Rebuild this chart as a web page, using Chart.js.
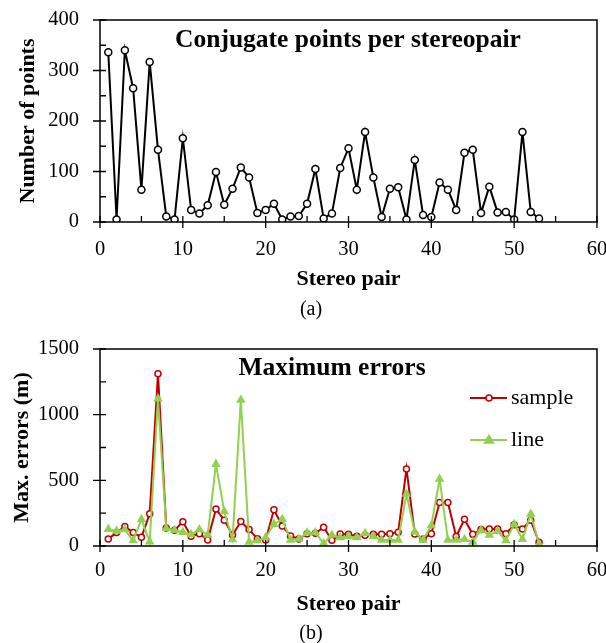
<!DOCTYPE html>
<html>
<head>
<meta charset="utf-8">
<script src="https://cdn.jsdelivr.net/npm/chart.js@4.4.0/dist/chart.umd.min.js"></script>
<style>
    body { margin: 0; background: #fff; width: 606px; height: 643px; position: relative; overflow: hidden; }
    canvas { position: absolute; left: 0; }
    #chartA { top: 0; }
    #chartB { top: 325px; }
    .cap { position: absolute; width: 100%; text-align: center; font-family: 'Liberation Serif', serif; font-size: 20px; color: #000; }
</style>
</head>
<body>
<canvas id="chartA" width="606" height="325"></canvas>
<canvas id="chartB" width="606" height="318"></canvas>
<div class="cap" style="left:8px; top:297px;">(a)</div>
<div class="cap" style="left:8px; top:621px;">(b)</div>
<script>
// Data
const stereoPairs = [1, 2, 3, 4, 5, 6, 7, 8, 9, 10, 11, 12, 13, 14, 15, 16, 17, 18, 19, 20,
    21, 22, 23, 24, 25, 26, 27, 28, 29, 30, 31, 32, 33, 34, 35, 36, 37, 38, 39, 40,
    41, 42, 43, 44, 45, 46, 47, 48, 49, 50, 51, 52, 53];

const conjugatePoints = [336, 5, 340, 265, 64, 317, 143, 11, 5, 166,
    24, 17, 33, 99, 34, 66, 108, 88, 18, 24,
    36, 5, 11, 12, 36, 105, 7, 17, 107, 146,
    64, 178, 88, 10, 66, 69, 5, 123, 14, 10,
    78, 64, 24, 137, 143, 18, 70, 19, 20, 5,
    178, 20, 7];

const sampleErrors = [54, 102, 148, 102, 67, 245, 1311, 138, 120, 184,
    74, 94, 46, 281, 197, 84, 186, 125, 56, 46,
    276, 153, 77, 54, 94, 97, 143, 44, 92, 89,
    74, 82, 89, 89, 94, 105, 587, 92, 54, 94,
    332, 332, 72, 204, 89, 125, 130, 130, 94, 161,
    130, 197, 28];

const lineErrors = [128, 115, 125, 41, 202, 33, 1122, 135, 120, 105,
    87, 125, 84, 623, 263, 49, 1112, 31, 41, 64,
    166, 204, 46, 54, 100, 102, 20, 84, 64, 72,
    64, 97, 72, 46, 46, 46, 396, 107, 46, 156,
    510, 46, 46, 51, 31, 120, 84, 112, 41, 166,
    51, 243, 15];

const FONT = "'Liberation Serif', 'Times New Roman', serif";

function toPoints(values) {
    return values.map((v, i) => ({ x: stereoPairs[i], y: v }));
}

// frame + custom tick marks (major ticks cross the axis, minor ticks inside)
const framePlugin = {
    id: 'frame',
    afterDraw(chart) {
        const { ctx, chartArea: a, scales } = chart;
        ctx.save();
        ctx.strokeStyle = '#000';
        ctx.lineWidth = 1.5;
        ctx.strokeRect(a.left, a.top, a.right - a.left, a.bottom - a.top);
        ctx.lineWidth = 1.3;
        ctx.beginPath();
        scales.x.ticks.forEach(t => {
            const px = scales.x.getPixelForValue(t.value);
            const major = t.value % 10 === 0;
            ctx.moveTo(px, a.bottom + (major ? 6 : 0));
            ctx.lineTo(px, a.bottom - 6);
        });
        const yStep = chart.options.scales.y.ticks.labelStep;
        scales.y.ticks.forEach(t => {
            const py = scales.y.getPixelForValue(t.value);
            const major = t.value % yStep === 0;
            ctx.moveTo(a.left - (major ? 7 : 0), py);
            ctx.lineTo(a.left + 6, py);
        });
        ctx.stroke();

        const title = chart.options.plugins.innerTitle;
        if (title) {
            ctx.fillStyle = '#000';
            ctx.font = 'bold 25.5px ' + FONT;
            ctx.textAlign = 'center';
            ctx.textBaseline = 'middle';
            ctx.fillText(title.text, title.x, title.y);
        }

        const legend = chart.options.plugins.sideLegend;
        if (legend) {
            chart.data.datasets.forEach((ds, i) => {
                const y = legend.y + i * legend.gap;
                ctx.strokeStyle = ds.borderColor;
                ctx.lineWidth = 2;
                ctx.beginPath();
                ctx.moveTo(legend.x, y);
                ctx.lineTo(legend.x + 37, y);
                ctx.stroke();
                ctx.fillStyle = ds.pointBackgroundColor;
                ctx.lineWidth = 1.5;
                ctx.beginPath();
                if (ds.pointStyle === 'triangle') {
                    ctx.moveTo(legend.x + 19, y - 5);
                    ctx.lineTo(legend.x + 23.5, y + 3);
                    ctx.lineTo(legend.x + 14.5, y + 3);
                    ctx.closePath();
                } else {
                    ctx.arc(legend.x + 19, y, 3, 0, Math.PI * 2);
                }
                ctx.fill();
                ctx.stroke();
                ctx.fillStyle = '#000';
                ctx.font = '22px ' + FONT;
                ctx.textAlign = 'left';
                ctx.textBaseline = 'middle';
                ctx.fillText(ds.label, legend.x + 41, y);
            });
        }
        ctx.restore();
    }
};

function makeOptions(cfg) {
    return {
        responsive: false,
        animation: false,
        events: [],
        layout: { padding: { top: cfg.padTop, right: 9, left: 0, bottom: 0 } },
        plugins: {
            legend: { display: false },
            tooltip: { enabled: false },
            innerTitle: cfg.title,
            sideLegend: cfg.legend
        },
        scales: {
            x: {
                type: 'linear',
                min: 0,
                max: 60,
                grid: { display: false, drawTicks: false },
                border: { display: false },
                ticks: {
                    stepSize: 5,
                    autoSkip: false,
                    maxRotation: 0,
                    padding: cfg.xTickPad,
                    color: '#000',
                    font: { family: FONT, size: 20.5 },
                    callback: v => (v % 10 === 0 ? v : '')
                },
                title: {
                    display: true,
                    text: 'Stereo pair',
                    color: '#000',
                    font: { family: FONT, size: 22, weight: 'bold' },
                    padding: { top: 0, bottom: cfg.xTitlePad }
                },
                afterFit: scale => {
                    scale.height = cfg.xHeight;
                    scale.paddingLeft = 0;
                    scale.paddingRight = 0;
                }
            },
            y: {
                min: 0,
                max: cfg.yMax,
                grid: { display: false, drawTicks: false },
                border: { display: false },
                ticks: {
                    stepSize: cfg.yStep,
                    labelStep: cfg.yLabelStep,
                    autoSkip: false,
                    padding: 21,
                    color: '#000',
                    font: { family: FONT, size: 20.5 },
                    callback: v => (v % cfg.yLabelStep === 0 ? v : '')
                },
                title: {
                    display: true,
                    text: cfg.yTitle,
                    color: '#000',
                    font: { family: FONT, size: 22, weight: 'bold' },
                    padding: { top: cfg.yTitlePad, bottom: 0 }
                },
                afterFit: scale => {
                    scale.width = 100;
                    scale.paddingTop = 0;
                    scale.paddingBottom = 0;
                }
            }
        }
    };
}

new Chart(document.getElementById('chartA'), {
    type: 'line',
    data: {
        datasets: [{
            label: 'Conjugate points',
            data: toPoints(conjugatePoints),
            borderColor: '#000',
            borderWidth: 2,
            pointStyle: 'circle',
            pointRadius: 3.5,
            pointBorderWidth: 1.5,
            pointBackgroundColor: '#fff',
            tension: 0
        }]
    },
    options: makeOptions({
        padTop: 20,
        xHeight: 103,
        xTickPad: 15,
        xTitlePad: 32,
        yMax: 400,
        yStep: 50,
        yLabelStep: 100,
        yTitle: 'Number of points',
        yTitlePad: 15,
        title: { text: 'Conjugate points per stereopair', x: 348, y: 40 }
    }),
    plugins: [framePlugin]
});

new Chart(document.getElementById('chartB'), {
    type: 'line',
    data: {
        datasets: [{
            label: 'sample',
            data: toPoints(sampleErrors),
            borderColor: '#C00000',
            borderWidth: 2,
            pointStyle: 'circle',
            pointRadius: 3,
            pointBorderWidth: 1.5,
            pointBackgroundColor: '#fff',
            order: 1,
            tension: 0
        }, {
            label: 'line',
            data: toPoints(lineErrors),
            borderColor: '#92D050',
            borderWidth: 2,
            pointStyle: 'triangle',
            pointRadius: 4,
            pointBorderWidth: 1.5,
            pointBackgroundColor: '#92D050',
            order: 0,
            tension: 0
        }]
    },
    options: makeOptions({
        padTop: 24,
        xHeight: 97,
        xTickPad: 12,
        xTitlePad: 25,
        yMax: 1500,
        yStep: 250,
        yLabelStep: 500,
        yTitle: 'Max. errors (m)',
        yTitlePad: 9,
        title: { text: 'Maximum errors', x: 332, y: 43 },
        legend: { x: 470, y: 73, gap: 42 }
    }),
    plugins: [framePlugin]
});
</script>
</body>
</html>
